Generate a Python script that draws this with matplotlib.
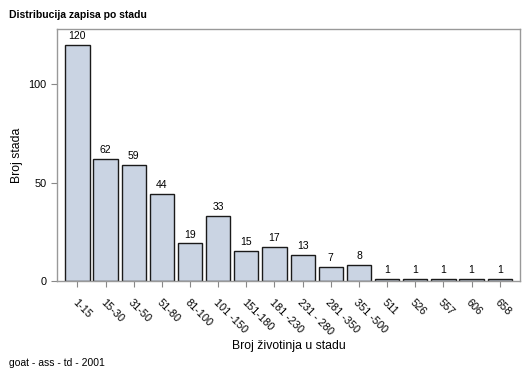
import matplotlib
matplotlib.use("Agg")
import matplotlib.pyplot as plt

plt.rcParams['font.family'] = ['Liberation Sans', 'DejaVu Sans']

categories = ["1-15", "15-30", "31-50", "51-80", "81-100", "101 -150", "151-180", "181 -230",
              "231 - 280", "281 -350", "351 -500", "511", "526", "557", "606", "658"]
values = [120, 62, 59, 44, 19, 33, 15, 17, 13, 7, 8, 1, 1, 1, 1, 1]

fig = plt.figure(figsize=(5.29, 3.78), dpi=100)
ax = fig.add_axes([0.108, 0.257, 0.875, 0.666])

x = list(range(len(categories)))
ax.bar(x, values, width=0.86, color="#cad4e3", edgecolor="#1a1a1a", linewidth=1.0)
for xi, v in zip(x, values):
    ax.text(xi, v + 2, str(v), ha="center", va="bottom", fontsize=7.5)

ax.set_xlim(-0.72, 15.72)
ax.set_ylim(0, 128)
ax.set_yticks([0, 50, 100])
ax.set_xticks(x)
ax.set_xticklabels(categories, rotation=-45, ha="left", va="top", rotation_mode="anchor", fontsize=7.8)
ax.tick_params(axis="both", labelsize=7.8, color="#888888", length=4, direction="out")
ax.tick_params(axis="x", pad=8)
for s in ax.spines.values():
    s.set_color("#999999")
    s.set_linewidth(1.0)

ax.set_ylabel("Broj stada", fontsize=8.8)
ax.set_xlabel("Broj životinja u stadu", fontsize=8.8, labelpad=2)
fig.text(0.017, 0.96, "Distribucija zapisa po stadu", fontsize=7.5, fontweight="bold", va="center")
fig.text(0.017, 0.04, "goat - ass - td - 2001", fontsize=7.5, va="center")

fig.savefig("out.png", dpi=100)
